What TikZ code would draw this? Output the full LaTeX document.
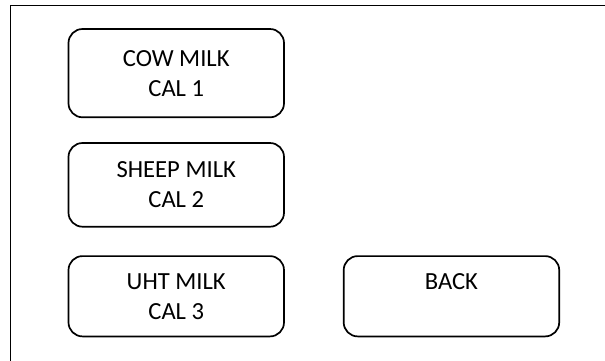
\documentclass[tikz,border=0pt]{standalone}
\usepackage{fontspec}
\setmainfont{Carlito}
\usetikzlibrary{positioning}
\tikzset{button/.style = {draw, rounded corners=7pt, line width=0.85pt,
  inner sep=0pt, minimum width=107.75pt, align=center}}
\tikzset{every node/.append style = {font=\fontsize{12.3}{15}\selectfont}}

\begin{document}
\begin{tikzpicture}[x=0.5pt, y=-0.5pt]
  \useasboundingbox (0,0) rectangle (605,360);
  \clip (0,0) rectangle (605,360);
  \draw[line width=0.8pt] (10.5,5.5) rectangle (640,400);
  \node[button, minimum height=44.15pt] (cow) at (176.25,73.15)
       {COW MILK\\CAL 1};
  \node[button, minimum height=41.85pt, below = 12pt of cow] (sheep)
       {SHEEP MILK\\CAL 2};
  \node[button, minimum height=40.15pt, below = 13.85pt of sheep] (uht)
       {UHT MILK\\CAL 3};
  \node[button, minimum height=40.15pt, right = 29pt of uht] (back)
       {BACK\\~};
\end{tikzpicture}
\end{document}
